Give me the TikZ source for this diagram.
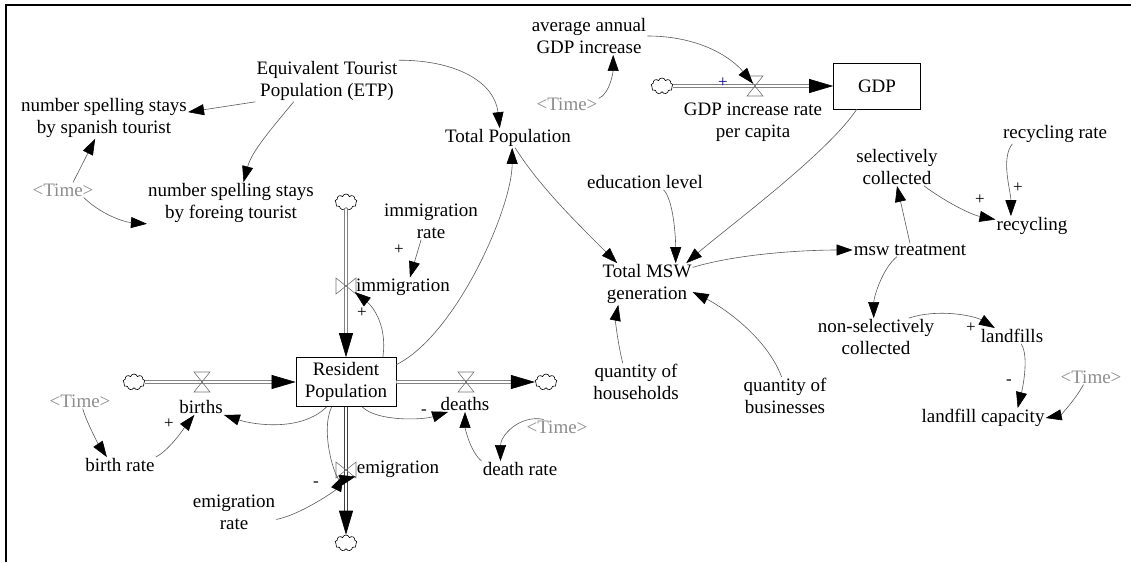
\documentclass[tikz,border=0pt]{standalone}
\usepackage{fontspec}
\setmainfont{Liberation Serif}
\usetikzlibrary{arrows.meta,shapes.symbols}

\tikzset{
  var/.style={align=center, inner sep=1pt, font=\fontsize{19}{22}\selectfont},
  shadow/.style={var, text=black!45},
  stock/.style={var, draw, line width=0.7pt},
  link/.style={draw=black!65, line width=0.6pt, -{Triangle[length=16pt,width=11pt,black]}},
  flow/.style={draw=black!75, double=white, double distance=2.6pt, line width=0.6pt, -{Triangle[length=24pt,width=14pt,black]}},
  sign/.style={inner sep=0pt, font=\fontsize{17}{17}\selectfont},
  cloudy/.style={cloud, cloud puffs=9, draw, line width=0.6pt, minimum width=22pt, minimum height=16pt, inner sep=0pt},
  valve/.pic={\draw[black!55, line width=0.6pt] (-8,-10) -- (8,-10) -- (-8,10) -- (8,10) -- cycle;}
}

\begin{document}
\begin{tikzpicture}[x=1pt,y=-1pt]
\useasboundingbox (0,0) rectangle (1131,562);
\draw[line width=2pt] (6,562) -- (6,5) -- (1131,5);

\node[var] (AVG) at (589,36) {average annual\\GDP increase};
\node[shadow] (T2) at (567,104) {<Time>};
\node[cloudy] (C2) at (662,86) {};
\node[stock, minimum width=87pt, minimum height=46pt] (GDP) at (877,86) {GDP};
\coordinate (V1) at (755,86);
\node[var] (GIR) at (753,122) {GDP increase rate\\per capita};

\node[var] (ETP) at (327,81) {Equivalent Tourist\\Population (ETP)};
\node[var] (NSS) at (104,118) {number spelling stays\\by spanish tourist};
\node[shadow] (T1) at (63,190) {<Time>};
\node[var] (NSF) at (231,203) {number spelling stays\\by foreing tourist};
\node[var] (TP) at (508,138) {Total Population};

\node[var] (EDU) at (645,182) {education level};
\node[var] (TOT) at (647,284) {Total MSW\\generation};
\node[var] (QH) at (636,382) {quantity of\\households};
\node[var] (QB) at (785,396) {quantity of\\businesses};

\node[var] (SC) at (897,167) {selectively\\collected};
\node[var] (RR) at (1055,134) {recycling rate};
\node[var] (REC) at (1032,226) {recycling};
\node[var] (MSW) at (910,250) {msw treatment};
\node[var] (NSC) at (876,337) {non-selectively\\collected};
\node[var] (LF) at (1012,336) {landfills};
\node[shadow] (T5) at (1091,377) {<Time>};
\node[var] (LC) at (983,418) {landfill capacity};

\node[stock, minimum width=100pt, minimum height=49pt] (RP) at (346,382) {Resident\\Population};
\node[cloudy] (C1) at (346,202) {};
\node[cloudy] (C3) at (134,382) {};
\node[cloudy] (C4) at (546,382) {};
\node[cloudy] (C5) at (346,543) {};
\coordinate (V2) at (346,286);
\coordinate (V3) at (202,382);
\coordinate (V4) at (466,382);
\coordinate (V5) at (346,470);
\node[var] (IR) at (431,221) {immigration\\rate};
\node[var] (IM) at (403,287) {immigration};
\node[var] (BI) at (201,407) {births};
\node[shadow] (T3) at (80,401) {<Time>};
\node[var] (BR) at (120,465) {birth rate};
\node[var] (DE) at (465,404) {deaths};
\node[shadow] (T4) at (557,427) {<Time>};
\node[var] (DR) at (520,469) {death rate};
\node[var] (EM) at (398,469) {emigration};
\node[var] (ER) at (234,512) {emigration\\rate};

\draw[flow] (C2.east) -- (GDP.west);
\draw[flow] (C1.south) -- (RP.north);
\draw[flow] (C3.east) -- (RP.west);
\draw[flow] (RP.east) -- (C4.west);
\draw[flow] (RP.south) -- (C5.north);
\pic at (V1) {valve};
\pic[rotate=90] at (V2) {valve};
\pic at (V3) {valve};
\pic at (V4) {valve};
\pic[rotate=90] at (V5) {valve};

\draw[link] (ETP.south west) -- (NSS.4);
\draw[link] (ETP.212) .. controls +(-25,30) and +(8,-30) .. (NSF.59);
\draw[link] (ETP.north east) .. controls +(60,0) and +(-5,-45) .. (TP.130);
\draw[link] (T1.37) -- (NSS.247);
\draw[link] (T1.-20) .. controls +(15,15) and +(-25,-2) .. (NSF.south west);
\draw[link] (T2.10) .. controls +(12,-5) and +(0,15) .. (AVG.-38);
\draw[link, shorten >=3pt] (AVG.east) .. controls +(50,0) and +(-25,-30) .. (V1);
\draw[link] (GDP.229) .. controls +(-30,45) and +(40,-35) .. (TOT.28);
\draw[link] (TP.-54) .. controls +(25,40) and +(-35,-35) .. (TOT.145);
\draw[link] (EDU.-23) .. controls +(10,10) and +(0,-25) .. (TOT.36);
\draw[link] (TOT.20) .. controls +(50,-15) and +(-40,0) .. (MSW.west);
\draw[link] (QH.125) .. controls +(-5,-20) and +(-3,15) .. (TOT.216);
\draw[link] (QB.100) .. controls +(-15,-40) and +(30,15) .. (TOT.-10);
\draw[link] (MSW.north) -- (SC.south);
\draw[link] (SC.-35) .. controls +(20,15) and +(-25,-5) .. (REC.170);
\draw[link] (RR.193) .. controls +(-12,15) and +(0,-25) .. (REC.155);
\draw[link] (MSW.207) .. controls +(-15,12) and +(0,-20) .. (NSC.97);
\draw[link] (NSC.30) .. controls +(30,-10) and +(-20,-12) .. (LF.155);
\draw[link] (LF.-41) .. controls +(8,12) and +(5,-20) .. (LC.16);
\draw[link] (T5.225) .. controls +(-8,15) and +(15,-3) .. (LC.east);
\draw[link] (RP.19) .. controls +(60,-30) and +(0,60) .. (TP.-67);
\draw[link] (RP.34) .. controls +(5,-35) and +(15,12) .. (IM.186);
\draw[link] (IR.242) -- (IM.54);
\draw[link] (BR.north east) .. controls +(15,-8) and +(-8,10) .. (BI.230);
\draw[link] (T3.-70) .. controls +(3,12) and +(-8,-12) .. (BR.149);
\draw[link] (RP.232) .. controls +(-25,25) and +(30,10) .. (BI.south east);
\draw[link] (RP.-57) .. controls +(15,15) and +(-25,8) .. (DE.205);
\draw[link] (DR.north west) .. controls +(-12,-10) and +(0,15) .. (DE.south);
\draw[link] (T4.150) .. controls +(-25,-5) and +(0,-25) .. (DR.158);
\draw[link] (RP.240) .. controls +(-12,25) and +(-20,5) .. (EM.190);
\draw[link, shorten >=6pt] (ER.-10) .. controls +(25,-5) and +(-10,20) .. (V5);

\node[sign, text=blue!60!black] (S1) at (723,83) {+};
\node[sign] (S2) at (399,250) {+};
\node[sign] (S3) at (362,313) {+};
\node[sign] (S4) at (169,424) {+};
\node[sign] (S5) at (424,412) {-};
\node[sign] (S6) at (316,484) {-};
\node[sign] (S7) at (980,200) {+};
\node[sign] (S8) at (1018,188) {+};
\node[sign] (S9) at (971,328) {+};
\node[sign] (S10) at (1009,382) {-};
\end{tikzpicture}
\end{document}
